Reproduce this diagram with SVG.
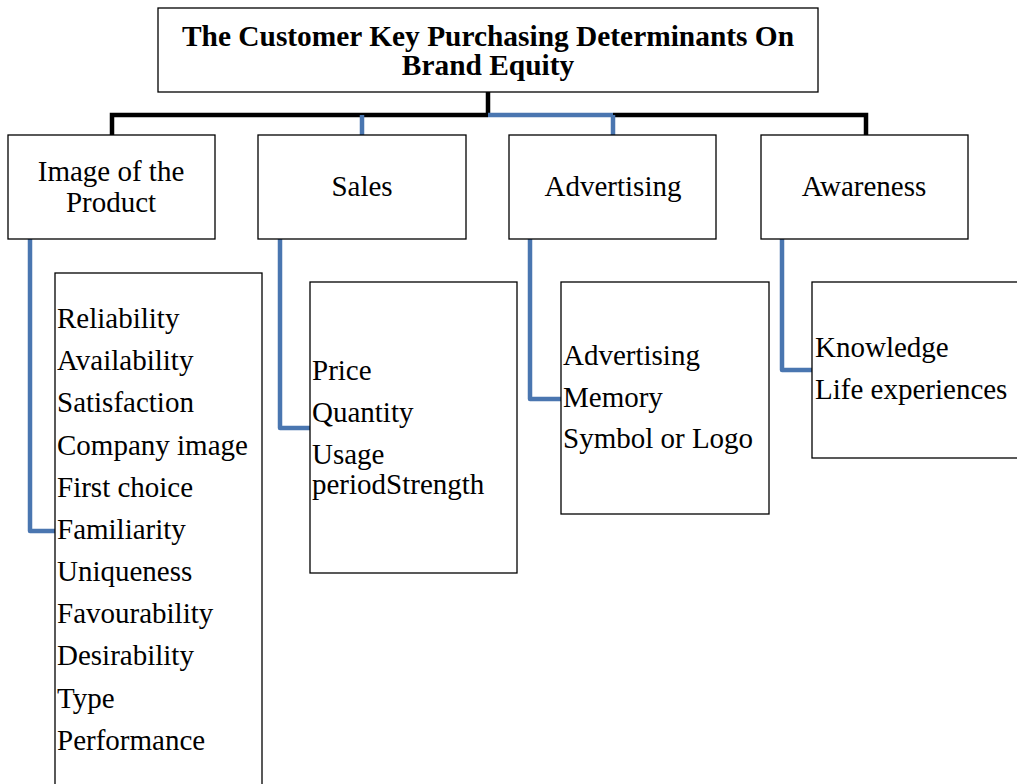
<svg xmlns="http://www.w3.org/2000/svg" width="1017" height="784" viewBox="0 0 1017 784">
  <style>
    .box { fill: #ffffff; stroke: #000000; stroke-width: 1.3; }
    .t { font-family: "Liberation Serif", "Times New Roman", serif; font-size: 29px; fill: #000000; }
    .title { font-family: "Liberation Serif", "Times New Roman", serif; font-size: 29.4px; font-weight: bold; fill: #000000; }
    .blk { fill: none; stroke: #000000; stroke-width: 4.5; stroke-linejoin: miter; }
    .blu { fill: none; stroke: #4a76b0; stroke-width: 4.5; stroke-linejoin: round; }
  </style>
  <rect width="1017" height="784" fill="#ffffff"/>

  <!-- connectors -->
  <g id="connectors">
    <path class="blk" d="M488 92 V115 M112 135 V115 H488 M613 115 H866 V135"/>
    <path class="blu" d="M488 115 H613 M362 115 V135 M613 115 V135"/>
    <path class="blu" d="M30 239 V531 H55"/>
    <path class="blu" d="M280 239 V428 H310"/>
    <path class="blu" d="M530 239 V399 H561"/>
    <path class="blu" d="M782 239 V370 H812"/>
  </g>

  <g id="root">
    <rect class="box" x="158" y="8" width="660" height="84"/>
    <text class="title" x="488" y="46" text-anchor="middle">The Customer Key Purchasing Determinants On</text>
    <text class="title" x="488" y="75" text-anchor="middle">Brand Equity</text>
  </g>

  <g id="image-of-the-product">
    <rect class="box" x="8" y="135" width="207" height="104"/>
    <text class="t" x="111" y="181" text-anchor="middle">Image of the</text>
    <text class="t" x="111" y="212" text-anchor="middle">Product</text>
  </g>
  <g id="sales">
    <rect class="box" x="258" y="135" width="208" height="104"/>
    <text class="t" x="362" y="196" text-anchor="middle">Sales</text>
  </g>
  <g id="advertising">
    <rect class="box" x="509" y="135" width="207" height="104"/>
    <text class="t" x="613" y="196" text-anchor="middle">Advertising</text>
  </g>
  <g id="awareness">
    <rect class="box" x="761" y="135" width="207" height="104"/>
    <text class="t" x="864" y="196" text-anchor="middle">Awareness</text>
  </g>

  <g id="product-items">
    <rect class="box" x="55" y="273" width="207" height="520"/>
    <text class="t" x="57" y="328">Reliability</text>
    <text class="t" x="57" y="370">Availability</text>
    <text class="t" x="57" y="412">Satisfaction</text>
    <text class="t" x="57" y="455">Company image</text>
    <text class="t" x="57" y="497">First choice</text>
    <text class="t" x="57" y="539">Familiarity</text>
    <text class="t" x="57" y="581">Uniqueness</text>
    <text class="t" x="57" y="623">Favourability</text>
    <text class="t" x="57" y="665">Desirability</text>
    <text class="t" x="57" y="708">Type</text>
    <text class="t" x="57" y="750">Performance</text>
  </g>

  <g id="sales-items">
    <rect class="box" x="310" y="282" width="207" height="291"/>
    <text class="t" x="312" y="380">Price</text>
    <text class="t" x="312" y="422">Quantity</text>
    <text class="t" x="312" y="464">Usage</text>
    <text class="t" x="312" y="494">periodStrength</text>
  </g>

  <g id="advertising-items">
    <rect class="box" x="561" y="282" width="208" height="232"/>
    <text class="t" x="563" y="365">Advertising</text>
    <text class="t" x="563" y="407">Memory</text>
    <text class="t" x="563" y="448">Symbol or Logo</text>
  </g>

  <g id="awareness-items">
    <rect class="box" x="812" y="282" width="220" height="176"/>
    <text class="t" x="815" y="357">Knowledge</text>
    <text class="t" x="815" y="399">Life experiences</text>
  </g>
</svg>
